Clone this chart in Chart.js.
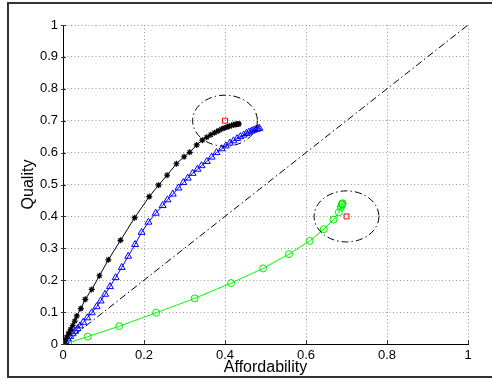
<!DOCTYPE html>
<html>
<head>
<meta charset="utf-8">
<script src="https://cdn.jsdelivr.net/npm/chart.js@4.4.1/dist/chart.umd.min.js"></script>
<style>
  html,body{margin:0;padding:0;background:#fff;}
  #wrap{position:relative;width:492px;height:379px;overflow:hidden;}
  #frame{position:absolute;left:7px;top:2px;width:600px;height:372px;border:2px solid #333;pointer-events:none;}
  canvas{position:absolute;left:0;top:0;}
</style>
</head>
<body>
<div id="wrap">
<div id="frame"></div>
<canvas id="c" width="492" height="379"></canvas>
</div>
<script>
// ---- data ----
const xTickLabels = ['0','0.2','0.4','0.6','0.8','1'];
const yTickLabels = ['0','0.1','0.2','0.3','0.4','0.5','0.6','0.7','0.8','0.9','1'];
const xTitle = 'Affordability';
const yTitle = 'Quality';

const blackX = [0,0.004,0.009,0.014,0.019,0.024,0.029,0.034,0.044,0.055,0.071,0.090,0.112,0.142,0.177,0.213,0.236,0.257,0.280,0.299,0.313,0.330,0.344,0.355,0.365,0.374,0.383,0.391,0.398,0.405,0.411,0.416,0.421,0.425,0.429,0.432,0.434];
const blackY = [0,0.010,0.022,0.034,0.046,0.058,0.072,0.088,0.111,0.140,0.171,0.214,0.264,0.325,0.396,0.462,0.498,0.529,0.565,0.587,0.601,0.624,0.639,0.648,0.656,0.662,0.668,0.673,0.677,0.680,0.683,0.685,0.687,0.688,0.689,0.690,0.690];

const blueX = [0,0.006,0.012,0.018,0.024,0.030,0.036,0.042,0.050,0.060,0.071,0.083,0.093,0.104,0.116,0.130,0.145,0.161,0.178,0.194,0.211,0.229,0.246,0.258,0.271,0.285,0.297,0.308,0.320,0.332,0.342,0.355,0.367,0.379,0.392,0.402,0.412,0.421,0.430,0.438,0.446,0.453,0.459,0.465,0.470,0.475,0.479,0.482,0.485];
const blueY = [0,0.008,0.016,0.024,0.032,0.040,0.048,0.057,0.068,0.082,0.098,0.117,0.135,0.156,0.180,0.208,0.240,0.275,0.312,0.350,0.382,0.410,0.434,0.452,0.470,0.489,0.506,0.520,0.535,0.548,0.559,0.572,0.586,0.600,0.612,0.621,0.630,0.637,0.644,0.650,0.655,0.660,0.664,0.667,0.670,0.672,0.674,0.675,0.676];

const greenX = [0,0.013,0.061,0.139,0.230,0.325,0.415,0.494,0.558,0.609,0.644,0.668,0.681,0.686,0.688,0.689,0.690,0.690];
const greenY = [0,0.004,0.023,0.056,0.098,0.143,0.191,0.237,0.282,0.323,0.360,0.390,0.413,0.428,0.435,0.438,0.440,0.441];

const targetX = [0.4, 0.7];
const targetY = [0.7, 0.4];
const circleRadius = [0.08, 0.08];

const diagX = [0, 1];
const diagY = [0, 1];

function pts(xs, ys){ return xs.map((x,i)=>({x:x, y:ys[i]})); }

const ellipsePlugin = {
  id:'ellipses',
  afterDatasetsDraw(chart){
    const ctx = chart.ctx, xs = chart.scales.x, ys = chart.scales.y;
    ctx.save();
    ctx.strokeStyle = '#000';
    ctx.lineWidth = 1;
    ctx.setLineDash([7,3,1.5,3]);
    for (let i=0;i<targetX.length;i++){
      const cx = xs.getPixelForValue(targetX[i]);
      const cy = ys.getPixelForValue(targetY[i]);
      const rx = Math.abs(xs.getPixelForValue(targetX[i]+circleRadius[i]) - cx);
      const ry = Math.abs(ys.getPixelForValue(targetY[i]+circleRadius[i]) - cy);
      ctx.beginPath();
      ctx.ellipse(cx, cy, rx, ry, 0, 0, Math.PI*2);
      ctx.stroke();
    }
    ctx.restore();
  }
};

const tickPlugin = {
  id:'inTicks',
  afterDraw(chart){
    const ctx = chart.ctx, xs = chart.scales.x, ys = chart.scales.y, a = chart.chartArea;
    ctx.save();
    ctx.strokeStyle = '#333';
    ctx.lineWidth = 1;
    ctx.beginPath();
    xs.ticks.forEach(t=>{
      const px = Math.round(xs.getPixelForValue(t.value))+0.5;
      ctx.moveTo(px, a.bottom); ctx.lineTo(px, a.bottom-4);
    });
    ys.ticks.forEach(t=>{
      const py = Math.round(ys.getPixelForValue(t.value))+0.5;
      ctx.moveTo(a.left-2, py); ctx.lineTo(a.left+3, py);
    });
    ctx.stroke();
    ctx.restore();
  }
};

const font = {family:'Liberation Sans, Arial, Helvetica, sans-serif'};

new Chart(document.getElementById('c'), {
  type:'line',
  data:{
    datasets:[
      {
        data: pts(diagX, diagY),
        borderColor:'#000', borderWidth:1, borderDash:[7,3,1.5,3],
        pointRadius:0, order:5
      },
      {
        data: pts(greenX, greenY),
        borderColor:'#00ff00', borderWidth:1,
        pointStyle:'circle', pointRadius:3.5, pointBorderColor:'#00ee00',
        pointBackgroundColor:'rgba(0,0,0,0)', pointBorderWidth:1, order:4
      },
      {
        data: pts(blueX, blueY),
        borderColor:'#0000ff', borderWidth:1,
        pointStyle:'triangle', pointRadius:4, pointBorderColor:'#0000ff',
        pointBackgroundColor:'rgba(0,0,0,0)', pointBorderWidth:1, order:3
      },
      {
        data: pts(blackX, blackY),
        borderColor:'#000', borderWidth:1,
        pointStyle:'star', pointRadius:3, pointBorderColor:'#000',
        pointBackgroundColor:'#000', pointBorderWidth:1.2, order:2
      },
      {
        data: pts(targetX, targetY),
        showLine:false,
        pointStyle:'rect', pointRadius:3.5, pointBorderColor:'#ff0000',
        pointBackgroundColor:'rgba(0,0,0,0)', pointBorderWidth:1, order:1
      }
    ]
  },
  options:{
    responsive:false,
    animation:false,
    layout:{padding:{left:0, top:25, right:24, bottom:0}},
    plugins:{legend:{display:false}, tooltip:{enabled:false}},
    elements:{line:{tension:0}},
    scales:{
      x:{
        type:'linear', min:0, max:1,
        afterFit(s){ s.height = 35; },
        ticks:{stepSize:0.2, padding:4, color:'#000', maxRotation:0,
          font:{...font, size:13},
          callback:(v,i)=>xTickLabels[i]},
        grid:{color:'#999', lineWidth:1, drawTicks:false},
        border:{display:true, color:'#000', width:1, dash:[1,2.5]},
        title:{display:true, text:xTitle, color:'#000', font:{...font, size:16}, padding:{top:0,bottom:2}}
      },
      y:{
        type:'linear', min:0, max:1,
        afterFit(s){ s.width = 63; },
        ticks:{stepSize:0.1, padding:5, color:'#000',
          font:{...font, size:13},
          callback:(v,i)=>yTickLabels[i]},
        grid:{color:'#999', lineWidth:1, drawTicks:false},
        border:{display:true, color:'#000', width:1, dash:[1,2.5]},
        title:{display:true, text:yTitle, color:'#000', font:{...font, size:16}, padding:{top:19,bottom:0}}
      }
    }
  },
  plugins:[ellipsePlugin, tickPlugin]
});
</script>
</body>
</html>
